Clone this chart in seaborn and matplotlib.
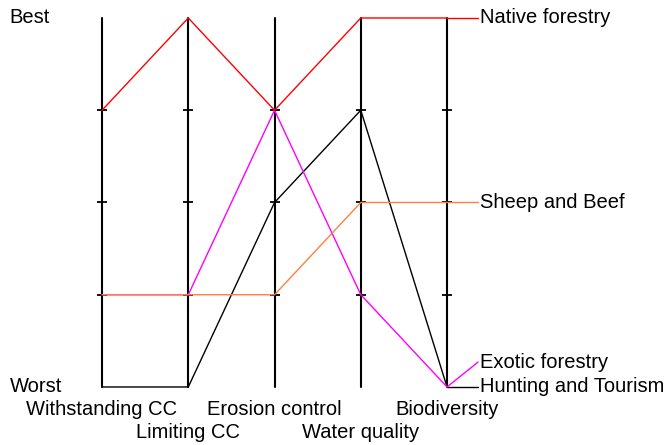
import numpy as np
import pandas as pd
import seaborn as sns
import matplotlib.pyplot as plt

criteria = ['Withstanding CC', 'Limiting CC', 'Erosion control', 'Water quality', 'Biodiversity']
native = [3, 4, 3, 4, 4]
exotic = [1, 1, 3, 1, 0]
sheep = [1, 1, 1, 2, 2]
hunting = [0, 0, 2, 3, 0]

options = ['Hunting and Tourism', 'Exotic forestry', 'Sheep and Beef', 'Native forestry']
colors = ['black', '#ff00ff', '#ff8040', '#ff0000']
label_y = [0, 0.27, 2, 4]  # where each option's name sits at the right

rows = []
for name, vals in zip(options, [hunting, exotic, sheep, native]):
    for i, v in enumerate(vals):
        rows.append({'option': name, 'axis': i, 'score': v})
data = pd.DataFrame(rows)

sns.set_style('white')
plt.rcParams['font.family'] = ['Liberation Sans', 'DejaVu Sans']
plt.rcParams['text.color'] = 'black'

fig = plt.figure(figsize=(6.68, 4.45), dpi=100)
ax = fig.add_axes([0, 0, 1, 1])

n = len(criteria)
# vertical axes with small ticks
for i in range(n):
    ax.plot([i, i], [0, 4], color='black', lw=1.5, zorder=1)
    ax.plot([i] * 3, [1, 2, 3], ls='none', marker='_', ms=7, mew=1.3, color='black', zorder=1)

sns.lineplot(data=data, x='axis', y='score', hue='option', hue_order=options,
             palette=colors, sort=False, estimator=None, lw=1.0, legend=False, ax=ax, zorder=3)

# connectors to the option names
for name, vals, c, ly in zip(options, [hunting, exotic, sheep, native], colors, label_y):
    ax.plot([n - 1, n - 0.64], [vals[-1], ly], color=c, lw=1.0, zorder=3)
    ax.text(n - 0.62, ly, name, fontsize=14.5, va='center', ha='left', color='black')

for i, name in enumerate(criteria):
    off = -23 if i % 2 == 0 else -46
    ax.annotate(name, xy=(i, 0), xytext=(0, off), textcoords='offset pixels',
                ha='center', va='center', fontsize=14.5, color='black')

ax.text(-1.07, 4, 'Best', fontsize=14.5, va='center', ha='left', color='black')
ax.text(-1.07, 0, 'Worst', fontsize=14.5, va='center', ha='left', color='black')

ax.set_xlim(-1.183, 6.562)
ax.set_ylim(-0.629, 4.195)
ax.axis('off')

plt.savefig('out.png', dpi=100)
